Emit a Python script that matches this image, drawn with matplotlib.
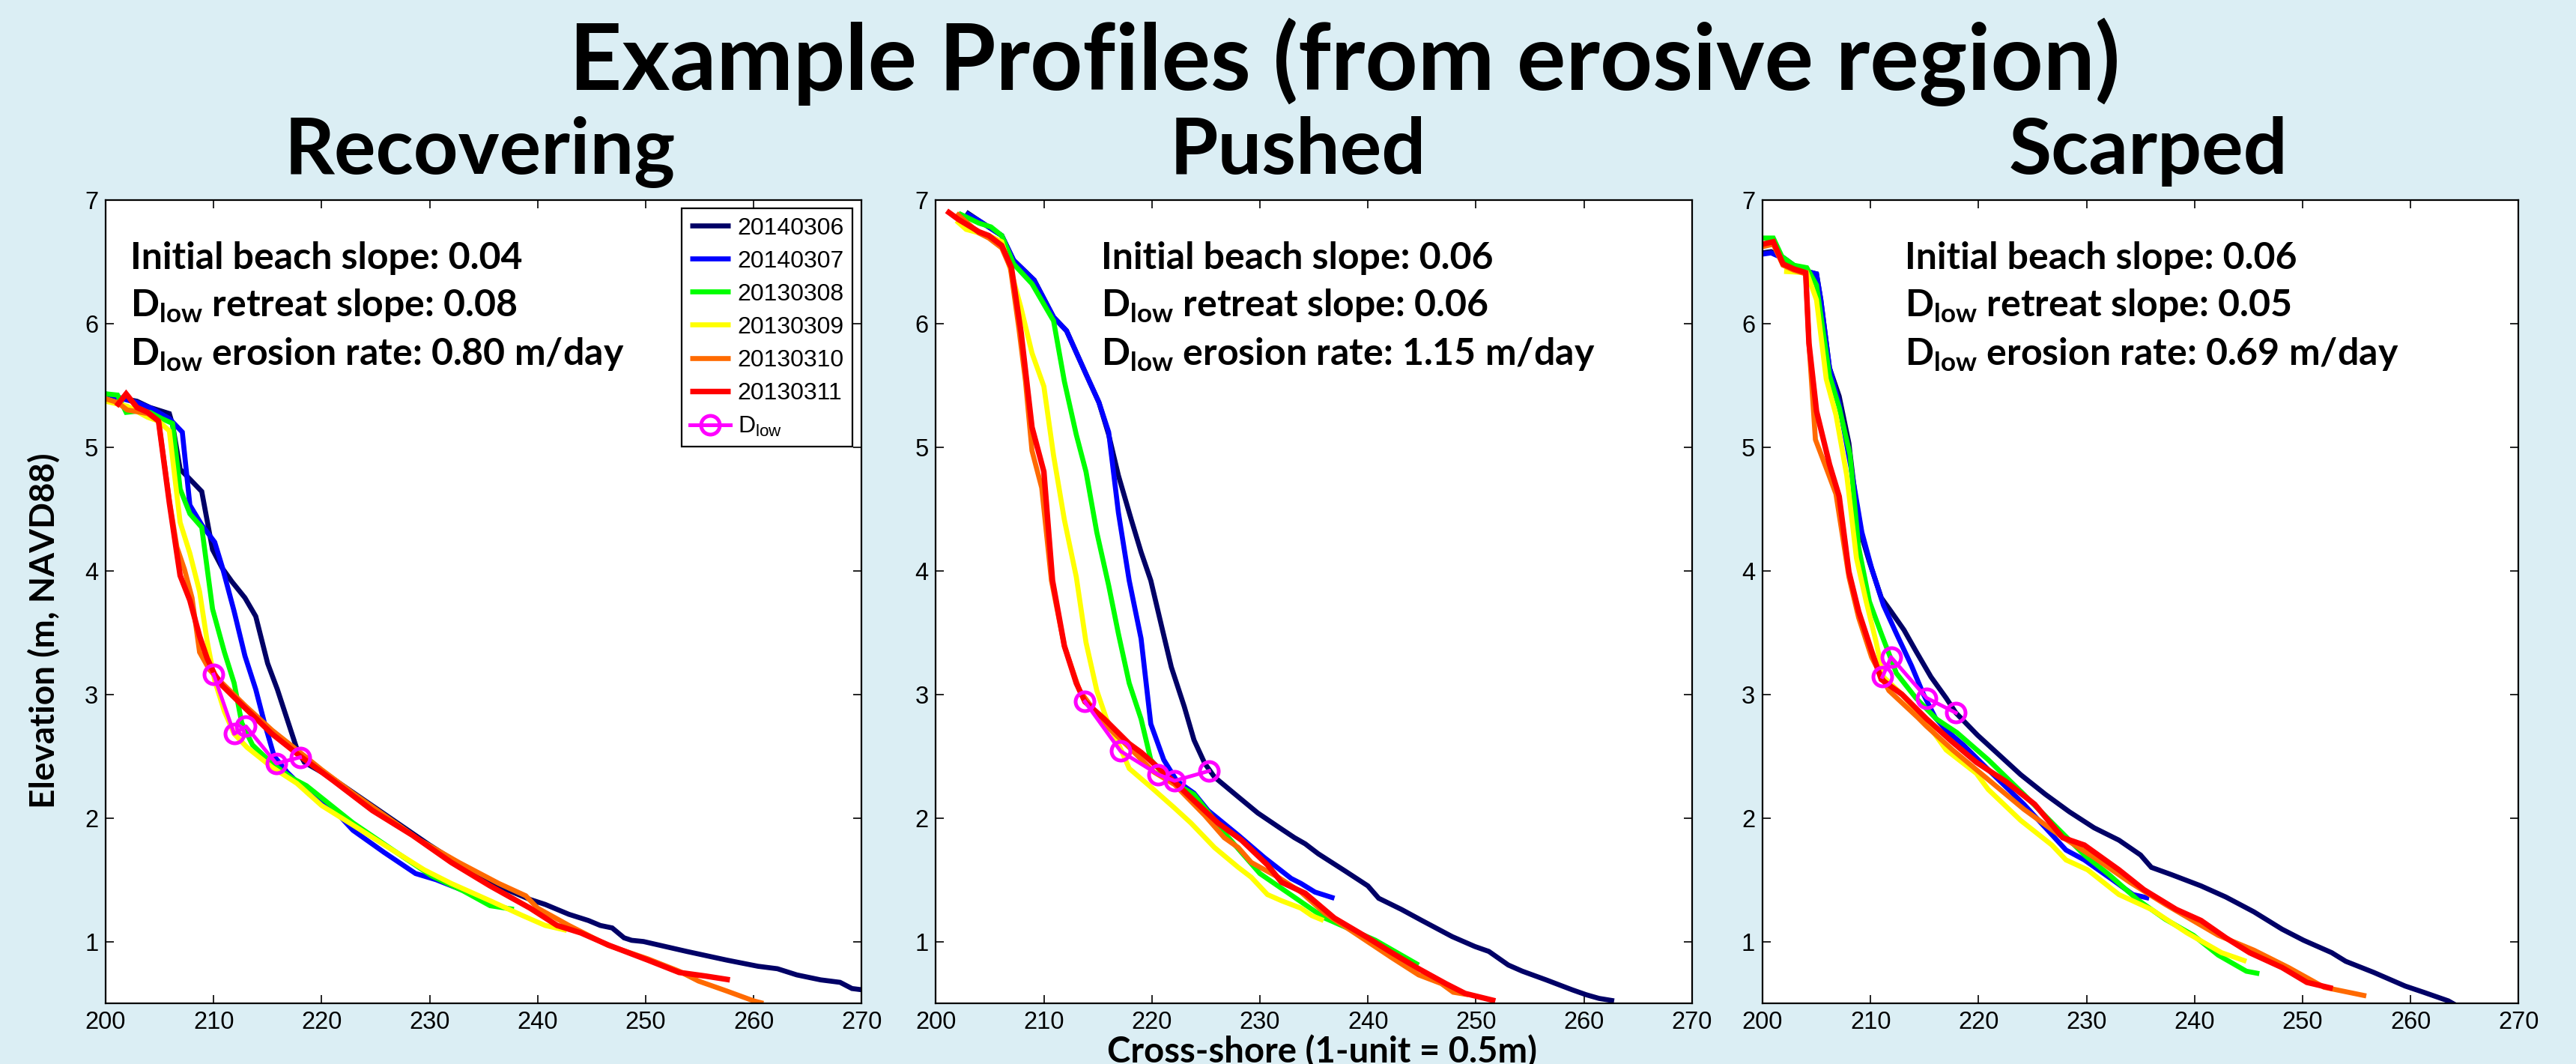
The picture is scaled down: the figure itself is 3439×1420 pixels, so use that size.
import matplotlib
matplotlib.use('Agg')
import matplotlib.pyplot as plt

# ---------------- data ----------------
dates = ['20140306', '20140307', '20130308', '20130309', '20130310', '20130311']
panel_titles = ['Recovering', 'Pushed', 'Scarped']
x_ticks = [200, 210, 220, 230, 240, 250, 260, 270]
y_ticks = [1, 2, 3, 4, 5, 6, 7]
beach_slope = ['0.04', '0.06', '0.06']
retreat_slope = ['0.08', '0.06', '0.05']
erosion_rate = ['0.80', '1.15', '0.69']

# Panel 1: Recovering
rec_0306_x = [201.2, 202.9, 204.1, 205.9, 206.2, 206.9, 207.8, 208.9, 209.9, 210.8, 211.7, 212.9, 213.9, 215.0, 215.9, 216.8, 217.7, 218.4, 221.0, 225.0, 230.0, 235.0, 239.3, 240.7, 242.9, 244.7, 245.8, 246.9, 248.0, 248.7, 249.8, 251.3, 253.8, 257.5, 260.4, 262.2, 264.0, 266.2, 268.0, 269.1, 270.0]
rec_0306_y = [5.40, 5.37, 5.32, 5.27, 5.18, 4.82, 4.74, 4.64, 4.17, 4.02, 3.91, 3.78, 3.63, 3.25, 3.04, 2.80, 2.56, 2.45, 2.32, 2.08, 1.78, 1.50, 1.34, 1.30, 1.22, 1.17, 1.13, 1.11, 1.03, 1.01, 1.00, 0.97, 0.92, 0.85, 0.80, 0.78, 0.73, 0.69, 0.67, 0.62, 0.61]
rec_0307_x = [200.0, 201.1, 202.9, 204.3, 205.9, 207.1, 207.8, 208.9, 210.1, 210.8, 211.9, 212.9, 213.9, 214.7, 215.6, 216.8, 218.9, 221.2, 222.9, 225.8, 228.7, 230.6, 233.5, 235.0]
rec_0307_y = [5.43, 5.40, 5.36, 5.31, 5.23, 5.12, 4.53, 4.37, 4.23, 4.03, 3.67, 3.31, 3.04, 2.77, 2.50, 2.37, 2.19, 2.06, 1.90, 1.72, 1.55, 1.50, 1.40, 1.34]
rec_0308_x = [200.0, 201.1, 201.9, 202.9, 204.1, 205.2, 206.2, 206.9, 207.8, 208.9, 209.9, 211.0, 211.9, 212.6, 213.6, 215.4, 217.3, 218.6, 222.9, 226.6, 230.2, 233.1, 235.6, 237.8]
rec_0308_y = [5.43, 5.42, 5.28, 5.29, 5.28, 5.23, 5.19, 4.66, 4.46, 4.35, 3.69, 3.34, 3.09, 2.77, 2.59, 2.44, 2.32, 2.26, 1.96, 1.74, 1.53, 1.41, 1.29, 1.26]
rec_0309_x = [200.0, 202.0, 203.9, 204.9, 205.9, 206.9, 207.8, 208.7, 209.4, 210.1, 211.0, 211.9, 213.1, 215.4, 217.7, 220.0, 223.3, 226.2, 229.5, 232.0, 235.6, 238.6, 240.7, 242.7]
rec_0309_y = [5.37, 5.33, 5.24, 5.21, 5.13, 4.39, 4.14, 3.83, 3.43, 3.11, 2.86, 2.68, 2.57, 2.41, 2.28, 2.10, 1.92, 1.76, 1.58, 1.47, 1.33, 1.21, 1.13, 1.09]
rec_0310_x = [200.0, 201.1, 202.0, 203.9, 204.9, 205.9, 206.6, 207.3, 208.0, 208.7, 209.6, 210.8, 212.9, 215.4, 218.0, 220.0, 222.9, 229.1, 232.7, 236.4, 238.9, 240.0, 242.9, 246.5, 250.2, 253.1, 254.9, 257.5, 260.0, 260.9]
rec_0310_y = [5.39, 5.36, 5.30, 5.27, 5.21, 4.57, 4.19, 4.01, 3.78, 3.34, 3.20, 3.09, 2.91, 2.71, 2.53, 2.39, 2.20, 1.82, 1.64, 1.47, 1.37, 1.27, 1.13, 0.97, 0.86, 0.76, 0.68, 0.60, 0.52, 0.50]
rec_0311_x = [201.0, 201.9, 202.9, 203.9, 204.9, 205.9, 206.9, 207.8, 208.7, 209.4, 210.1, 210.8, 212.9, 215.4, 218.0, 221.1, 224.7, 228.4, 232.0, 235.6, 239.3, 241.8, 244.0, 246.6, 250.2, 253.1, 255.6, 257.8]
rec_0311_y = [5.33, 5.43, 5.32, 5.28, 5.21, 4.55, 3.96, 3.76, 3.47, 3.29, 3.16, 3.07, 2.89, 2.68, 2.50, 2.30, 2.06, 1.86, 1.64, 1.45, 1.27, 1.13, 1.07, 0.97, 0.85, 0.75, 0.72, 0.69]
rec_dlow_x = [210.0, 211.9, 213.0, 215.8, 218.0]
rec_dlow_y = [3.16, 2.68, 2.74, 2.44, 2.49]

# Panel 2: Pushed
push_0306_x = [202.8, 204.0, 206.1, 207.2, 209.1, 210.9, 212.1, 213.9, 215.1, 216.0, 216.9, 218.1, 219.0, 219.9, 220.9, 221.8, 223.0, 223.9, 224.9, 225.8, 228.0, 229.8, 232.0, 233.2, 234.2, 235.4, 237.9, 240.0, 241.0, 243.1, 245.0, 247.8, 249.9, 251.2, 253.0, 254.3, 256.5, 258.9, 260.2, 261.4, 262.8]
push_0306_y = [6.90, 6.83, 6.71, 6.51, 6.35, 6.05, 5.94, 5.59, 5.36, 5.10, 4.77, 4.41, 4.15, 3.92, 3.55, 3.22, 2.90, 2.63, 2.44, 2.33, 2.17, 2.04, 1.91, 1.84, 1.79, 1.71, 1.57, 1.45, 1.35, 1.26, 1.17, 1.04, 0.96, 0.92, 0.81, 0.76, 0.69, 0.61, 0.57, 0.54, 0.52]
push_0307_x = [202.8, 204.0, 206.1, 207.2, 209.1, 210.9, 212.1, 213.9, 215.1, 216.0, 216.9, 217.9, 219.0, 219.9, 221.1, 222.3, 223.9, 225.2, 228.0, 230.4, 232.9, 233.8, 235.1, 236.9]
push_0307_y = [6.89, 6.83, 6.71, 6.51, 6.35, 6.05, 5.94, 5.59, 5.36, 5.12, 4.47, 3.92, 3.45, 2.76, 2.47, 2.30, 2.20, 2.06, 1.86, 1.68, 1.51, 1.47, 1.40, 1.35]
push_0308_x = [202.1, 204.0, 205.1, 206.1, 207.2, 208.9, 210.9, 211.9, 213.0, 213.9, 214.9, 216.0, 216.9, 217.9, 219.0, 219.9, 221.5, 223.9, 227.0, 230.0, 236.0, 240.7, 244.7]
push_0308_y = [6.89, 6.81, 6.78, 6.71, 6.48, 6.32, 6.02, 5.53, 5.10, 4.80, 4.31, 3.88, 3.49, 3.09, 2.80, 2.47, 2.31, 2.19, 1.85, 1.55, 1.19, 1.01, 0.81]
push_0309_x = [201.9, 202.8, 204.9, 206.1, 207.0, 207.9, 208.9, 210.0, 210.9, 211.9, 213.0, 213.9, 214.9, 215.8, 216.9, 217.9, 219.9, 222.1, 223.6, 225.8, 228.0, 229.2, 230.7, 232.0, 233.8, 234.8, 235.9]
push_0309_y = [6.83, 6.76, 6.71, 6.66, 6.41, 6.12, 5.76, 5.49, 4.93, 4.41, 3.95, 3.42, 3.03, 2.80, 2.60, 2.40, 2.25, 2.08, 1.96, 1.76, 1.60, 1.52, 1.38, 1.33, 1.27, 1.21, 1.17]
push_0310_x = [201.9, 204.0, 204.9, 206.1, 206.9, 207.7, 208.3, 208.9, 209.8, 210.7, 211.9, 213.3, 215.6, 217.9, 220.2, 222.1, 224.9, 226.7, 228.0, 229.2, 231.7, 233.8, 236.0, 239.1, 242.2, 244.7, 246.8, 247.9, 249.3]
push_0310_y = [6.89, 6.73, 6.69, 6.61, 6.45, 5.95, 5.53, 4.97, 4.67, 3.92, 3.39, 3.03, 2.76, 2.57, 2.37, 2.27, 2.02, 1.84, 1.76, 1.64, 1.52, 1.40, 1.23, 1.05, 0.87, 0.73, 0.66, 0.59, 0.57]
push_0311_x = [201.0, 202.1, 204.0, 204.9, 206.1, 207.0, 207.9, 208.9, 210.0, 210.8, 211.9, 213.0, 213.8, 215.6, 217.9, 219.0, 222.1, 223.9, 226.1, 228.3, 230.7, 232.0, 234.2, 236.9, 240.0, 242.2, 244.7, 247.2, 249.0, 251.8]
push_0311_y = [6.91, 6.84, 6.74, 6.71, 6.63, 6.45, 5.92, 5.16, 4.80, 3.92, 3.39, 3.09, 2.94, 2.80, 2.60, 2.53, 2.29, 2.14, 1.96, 1.82, 1.62, 1.48, 1.39, 1.19, 1.03, 0.91, 0.78, 0.66, 0.58, 0.52]
push_dlow_x = [213.8, 217.1, 220.6, 222.1, 225.3]
push_dlow_y = [2.94, 2.54, 2.35, 2.30, 2.38]

# Panel 3: Scarped
scar_0306_x = [200.0, 200.8, 201.8, 202.9, 204.1, 205.0, 205.4, 206.2, 207.1, 208.0, 208.9, 209.9, 211.0, 211.9, 213.1, 214.2, 215.6, 217.0, 217.9, 219.9, 221.9, 223.9, 226.2, 228.4, 230.7, 233.0, 235.0, 236.0, 237.9, 240.6, 242.9, 245.5, 248.1, 250.1, 251.4, 252.7, 254.0, 256.6, 259.5, 261.2, 263.5, 264.3]
scar_0306_y = [6.57, 6.58, 6.54, 6.47, 6.42, 6.40, 6.19, 5.64, 5.41, 5.03, 4.36, 4.07, 3.78, 3.67, 3.52, 3.35, 3.14, 2.97, 2.85, 2.67, 2.51, 2.35, 2.19, 2.05, 1.92, 1.82, 1.70, 1.60, 1.54, 1.45, 1.36, 1.24, 1.10, 1.01, 0.96, 0.91, 0.84, 0.75, 0.64, 0.59, 0.52, 0.48]
scar_0307_x = [200.0, 200.8, 201.8, 202.9, 204.1, 205.0, 205.4, 206.2, 207.1, 208.2, 209.2, 210.1, 211.2, 212.4, 213.8, 214.9, 216.0, 217.0, 218.6, 220.9, 224.2, 228.1, 229.8, 232.4, 234.3, 235.8]
scar_0307_y = [6.56, 6.57, 6.53, 6.46, 6.42, 6.40, 6.19, 5.64, 5.35, 4.83, 4.31, 4.02, 3.72, 3.49, 3.23, 3.00, 2.81, 2.71, 2.59, 2.39, 2.11, 1.74, 1.66, 1.50, 1.38, 1.35]
scar_0308_x = [200.0, 201.0, 201.8, 202.9, 204.1, 205.0, 206.2, 207.1, 208.1, 208.9, 209.9, 211.0, 212.4, 214.2, 216.1, 218.0, 220.9, 224.2, 227.5, 229.8, 232.1, 234.7, 237.3, 239.9, 242.2, 244.8, 246.0]
scar_0308_y = [6.69, 6.69, 6.54, 6.47, 6.45, 6.31, 5.58, 5.32, 4.94, 4.19, 3.75, 3.49, 3.17, 2.97, 2.80, 2.69, 2.47, 2.19, 1.90, 1.70, 1.54, 1.34, 1.18, 1.05, 0.89, 0.76, 0.74]
scar_0309_x = [202.0, 204.1, 205.0, 205.9, 206.8, 207.8, 208.7, 209.6, 210.5, 211.2, 212.9, 215.2, 217.0, 219.8, 220.9, 223.9, 226.8, 228.1, 230.1, 233.0, 236.0, 239.3, 242.5, 244.8]
scar_0309_y = [6.42, 6.41, 6.19, 5.55, 5.26, 4.77, 4.10, 3.75, 3.43, 3.14, 3.00, 2.77, 2.55, 2.36, 2.23, 1.98, 1.78, 1.66, 1.58, 1.38, 1.26, 1.07, 0.91, 0.84]
scar_0310_x = [200.0, 201.0, 201.9, 202.9, 204.0, 204.3, 204.9, 205.9, 206.8, 208.0, 208.9, 210.1, 211.7, 214.4, 215.2, 217.6, 219.8, 224.2, 227.5, 230.7, 234.0, 237.3, 242.2, 245.5, 248.7, 252.0, 255.9]
scar_0310_y = [6.62, 6.64, 6.47, 6.43, 6.40, 5.84, 5.06, 4.83, 4.62, 3.95, 3.62, 3.30, 3.03, 2.81, 2.74, 2.55, 2.39, 2.07, 1.86, 1.68, 1.48, 1.30, 1.05, 0.93, 0.79, 0.63, 0.56]
scar_0311_x = [200.0, 201.0, 201.9, 202.9, 204.0, 204.3, 205.0, 206.2, 207.1, 208.0, 208.9, 210.1, 211.0, 212.9, 215.2, 217.5, 219.8, 222.6, 225.2, 227.8, 229.8, 231.4, 233.0, 235.3, 238.3, 240.6, 242.9, 245.1, 248.1, 250.4, 252.8]
scar_0311_y = [6.64, 6.66, 6.48, 6.44, 6.41, 5.84, 5.29, 4.86, 4.60, 3.99, 3.67, 3.35, 3.12, 3.00, 2.80, 2.62, 2.45, 2.29, 2.11, 1.84, 1.78, 1.68, 1.58, 1.42, 1.26, 1.17, 1.03, 0.91, 0.79, 0.67, 0.62]
scar_dlow_x = [211.1, 211.9, 215.2, 217.9]
scar_dlow_y = [3.14, 3.30, 2.97, 2.85]

# ---------------- style ----------------
BG = '#DBEEF4'
colors = ['#000066', '#0000FF', '#00FF00', '#FFFF00', '#FF6A00', '#FF0000']
widths = [4.8, 4.8, 4.8, 4.8, 4.8, 5.3]
DLOW_COLOR = '#FF00FF'
BOLD_FONT = ['Lato', 'DejaVu Sans']
TICK_FONT = ['Liberation Sans', 'DejaVu Sans']

plt.rcParams['mathtext.fontset'] = 'custom'
plt.rcParams['mathtext.rm'] = 'Liberation Sans'
plt.rcParams['mathtext.it'] = 'Liberation Sans:italic'
plt.rcParams['mathtext.bf'] = 'Lato:bold'

panels = [
    ([rec_0306_x, rec_0307_x, rec_0308_x, rec_0309_x, rec_0310_x, rec_0311_x],
     [rec_0306_y, rec_0307_y, rec_0308_y, rec_0309_y, rec_0310_y, rec_0311_y],
     rec_dlow_x, rec_dlow_y),
    ([push_0306_x, push_0307_x, push_0308_x, push_0309_x, push_0310_x, push_0311_x],
     [push_0306_y, push_0307_y, push_0308_y, push_0309_y, push_0310_y, push_0311_y],
     push_dlow_x, push_dlow_y),
    ([scar_0306_x, scar_0307_x, scar_0308_x, scar_0309_x, scar_0310_x, scar_0311_x],
     [scar_0306_y, scar_0307_y, scar_0308_y, scar_0309_y, scar_0310_y, scar_0311_y],
     scar_dlow_x, scar_dlow_y),
]

fig = plt.figure(figsize=(34.39, 14.2), dpi=100, facecolor=BG)

ax_lefts = [0.0410, 0.3633, 0.6842]
ax_w = 0.2935
ax_b = 0.0570
ax_h = 0.7553
text_x = [0.0326, 0.2183, 0.1879]
sub_x = [641 / 3439, 1733 / 3439, 2868 / 3439]

for i, (xs, ys, dx, dy) in enumerate(panels):
    ax = fig.add_axes([ax_lefts[i], ax_b, ax_w, ax_h])
    ax.set_facecolor('white')
    for k in range(6):
        ax.plot(xs[k], ys[k], color=colors[k], lw=widths[k], label=dates[k],
                solid_joinstyle='miter', solid_capstyle='butt')
    ax.plot(dx, dy, color=DLOW_COLOR, lw=3.6, marker='o', markersize=18,
            markerfacecolor='none', markeredgewidth=3.6,
            label='D$_{\\mathrm{low}}$')
    ax.set_xlim(200, 270)
    ax.set_ylim(0.5, 7)
    ax.set_xticks(x_ticks)
    ax.set_yticks(y_ticks)
    ax.tick_params(direction='in', length=8, width=1.2, top=True, right=True,
                   labelsize=23.5, pad=7, colors='black')
    for lab in ax.get_xticklabels() + ax.get_yticklabels():
        lab.set_family(TICK_FONT)
    for s in ax.spines.values():
        s.set_linewidth(1.6)
        s.set_color('black')

    lines = ['Initial beach slope: ' + beach_slope[i],
             'D$_{\\mathbf{low}}$ retreat slope: ' + retreat_slope[i],
             'D$_{\\mathbf{low}}$ erosion rate: ' + erosion_rate[i] + ' m/day']
    for t, yy in zip(lines, [0.914, 0.854, 0.7935]):
        ax.text(text_x[i], yy, t, transform=ax.transAxes, ha='left', va='baseline',
                fontsize=36, fontweight='bold', family=BOLD_FONT)

    fig.text(sub_x[i], 1 - 232 / 1420, panel_titles[i], ha='center', va='baseline',
             fontsize=75, fontweight='bold', family=BOLD_FONT)

    if i == 0:
        leg = ax.legend(loc='upper right', bbox_to_anchor=(0.988, 0.989),
                        borderaxespad=0, handlelength=1.7,
                        handletextpad=0.3, labelspacing=0.44, borderpad=0.35,
                        fancybox=False, framealpha=1, edgecolor='black',
                        prop={'family': TICK_FONT, 'size': 23})
        leg.get_frame().set_linewidth(1.6)

fig.text(1795 / 3439, 1 - 120 / 1420, 'Example Profiles (from erosive region)',
         ha='center', va='baseline', fontsize=88, fontweight='bold', family=BOLD_FONT)
fig.text(59 / 3439, 1 - 842 / 1420, 'Elevation (m, NAVD88)', rotation=90,
         ha='center', va='center', fontsize=33, fontweight='bold', family=BOLD_FONT)
fig.text(1765 / 3439, 1 - 1418 / 1420, 'Cross-shore (1-unit = 0.5m)',
         ha='center', va='baseline', fontsize=34, fontweight='bold', family=BOLD_FONT)

fig.savefig('out.png', dpi=100, facecolor=BG)
